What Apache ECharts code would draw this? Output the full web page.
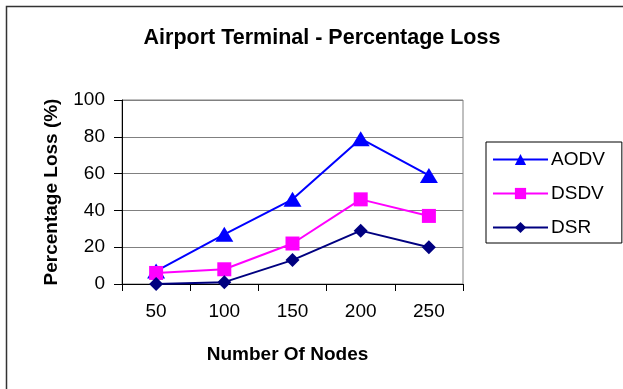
<!DOCTYPE html>
<html>
<head>
<meta charset="utf-8">
<script src="https://cdn.jsdelivr.net/npm/echarts@6/dist/echarts.min.js"></script>
<style>
  html, body { margin: 0; padding: 0; background: #fff; }
  #chart { width: 623px; height: 389px; }
</style>
</head>
<body>
<div id="chart"></div>
<script>
// Number of nodes on the x axis
const nodeCounts = ['50', '100', '150', '200', '250'];
// Percentage loss per routing protocol
const aodvLoss = [7, 27, 46, 79, 59];
const dsdvLoss = [6, 8, 22, 46, 37];
const dsrLoss  = [0, 1, 13, 29, 20];

const FONT = '"Liberation Sans", Arial, Helvetica, sans-serif';

const chart = echarts.init(document.getElementById('chart'), null, { renderer: 'canvas' });

function lineSeries(name, data, color, symbol, size) {
  return {
    name: name,
    type: 'line',
    data: data,
    symbol: symbol,
    symbolSize: size,
    showAllSymbol: true,
    lineStyle: { color: color, width: 2 },
    itemStyle: { color: color },
    emphasis: { disabled: true },
    animation: false
  };
}

chart.setOption({
  animation: false,
  backgroundColor: '#fff',
  textStyle: { fontFamily: FONT },
  title: {
    text: 'Airport Terminal - Percentage Loss',
    left: 317,
    textAlign: 'center',
    top: 22,
    textStyle: { fontFamily: FONT, fontSize: 21.5, fontWeight: 'bold', color: '#000' }
  },
  graphic: [{
    type: 'rect',
    shape: { x: 6.5, y: 6.5, width: 800, height: 600 },
    style: { fill: null, stroke: '#333', lineWidth: 1.5 },
    silent: true,
    z: 100
  }],
  legend: {
    orient: 'vertical',
    left: 486,
    top: 142,
    align: 'left',
    padding: [8, 17, 6, 6],
    itemGap: 15,
    itemWidth: 55,
    itemHeight: 14,
    borderColor: '#000',
    borderWidth: 1,
    backgroundColor: '#fff',
    textStyle: { fontFamily: FONT, fontSize: 19, color: '#000', padding: [0, 0, 0, -2] },
    data: ['AODV', 'DSDV', 'DSR']
  },
  grid: {
    left: 122,
    right: 160,
    top: 100,
    bottom: 105,
    show: true,
    borderColor: '#808080',
    borderWidth: 1,
    backgroundColor: '#fff'
  },
  xAxis: {
    type: 'category',
    data: nodeCounts,
    boundaryGap: true,
    name: 'Number Of Nodes',
    nameLocation: 'middle',
    nameGap: 61,
    nameTextStyle: { fontFamily: FONT, fontSize: 19, fontWeight: 'bold', color: '#000', padding: [0, 10, 0, 0] },
    axisLine: { show: true, lineStyle: { color: '#000', width: 1 } },
    axisTick: { show: true, alignWithLabel: false, length: 7, lineStyle: { color: '#000' } },
    axisLabel: { fontFamily: FONT, fontSize: 19, color: '#000', margin: 18, interval: 0 },
    splitLine: { show: false }
  },
  yAxis: {
    type: 'value',
    min: 0,
    max: 100,
    interval: 20,
    name: 'Percentage Loss (%)',
    nameLocation: 'middle',
    nameGap: 61,
    nameTextStyle: { fontFamily: FONT, fontSize: 19, fontWeight: 'bold', color: '#000' },
    axisLine: { show: true, lineStyle: { color: '#000', width: 1 } },
    axisTick: { show: true, length: 8, lineStyle: { color: '#000' } },
    axisLabel: { fontFamily: FONT, fontSize: 19, color: '#000', margin: 17 },
    splitLine: { show: true, lineStyle: { color: '#808080', width: 1 } }
  },
  series: [
    lineSeries('AODV', aodvLoss, '#0000FF', 'triangle', [18, 15]),
    lineSeries('DSDV', dsdvLoss, '#FF00FF', 'rect', 14),
    lineSeries('DSR',  dsrLoss,  '#000080', 'diamond', [14, 14])
  ]
});
</script>
</body>
</html>
